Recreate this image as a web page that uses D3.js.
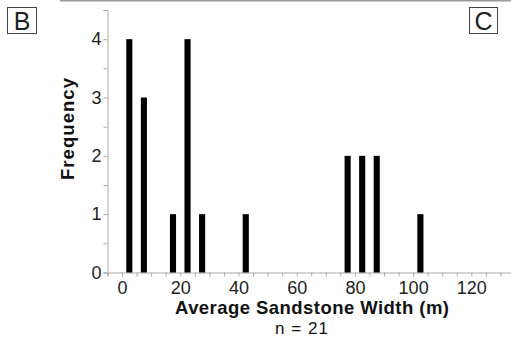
<!DOCTYPE html>
<html>
<head>
<meta charset="utf-8">
<script src="https://cdn.jsdelivr.net/npm/d3@7"></script>
<style>
  body { margin: 0; background: #fff; }
  svg { display: block; font-family: "Liberation Sans", Arial, sans-serif; }
</style>
</head>
<body>
<div id="chart"></div>
<script>
// histogram bins (centre of 5 m bin) and counts
const binCentres = [2.5, 7.5, 17.5, 22.5, 27.5, 42.5, 77.5, 82.5, 87.5, 102.5];
const counts = [4, 3, 1, 4, 1, 1, 2, 2, 2, 1];
const xTicks = [0, 20, 40, 60, 80, 100, 120];
const yTicks = [0, 1, 2, 3, 4];

let width = 511;
let height = 338;

let svg = d3.select("#chart")
    .append("svg")
    .attr("width", width)
    .attr("height", height);

let x = d3.scaleLinear().domain([-5, 135]).range([107.5, 515]);
let y = d3.scaleLinear().domain([0, 4.5]).range([272.5, 10]);

// top rule from the page
svg.append("line")
    .attr("x1", 60).attr("x2", width)
    .attr("y1", 0.75).attr("y2", 0.75)
    .attr("stroke", "#999").attr("stroke-width", 1.5);

// minor ticks
svg.append("g")
    .attr("transform", "translate(0,272.5)")
    .call(d3.axisBottom(x).tickValues(d3.range(-5, 136, 5)).tickSize(4).tickFormat(""))
    .call(g => g.select(".domain").attr("stroke", "#aaa"))
    .call(g => g.selectAll(".tick line").attr("stroke", "#aaa"));

svg.append("g")
    .attr("transform", "translate(107.5,0)")
    .call(d3.axisLeft(y).tickValues(d3.range(0, 4.51, 0.5)).tickSize(4).tickFormat(""))
    .call(g => g.select(".domain").attr("stroke", "#aaa"))
    .call(g => g.selectAll(".tick line").attr("stroke", "#aaa"));

// labelled ticks
let xAxis = svg.append("g")
    .attr("transform", "translate(0,272.5)")
    .call(d3.axisBottom(x).tickValues(xTicks).tickSize(0).tickPadding(8.5))
    .call(g => g.select(".domain").remove());
xAxis.selectAll("text").attr("font-size", 18).attr("fill", "#222")
    .attr("font-family", "Liberation Sans, Arial, sans-serif");

let yAxis = svg.append("g")
    .attr("transform", "translate(107.5,0)")
    .call(d3.axisLeft(y).tickValues(yTicks).tickFormat(d3.format("d")).tickSize(0).tickPadding(6))
    .call(g => g.select(".domain").remove());
yAxis.selectAll("text").attr("font-size", 18).attr("fill", "#222")
    .attr("font-family", "Liberation Sans, Arial, sans-serif");

// bars
let barW = x(2.1) - x(0);
svg.append("g")
    .selectAll("rect")
    .data(binCentres)
    .enter()
    .append("rect")
    .attr("x", d => x(d) - barW / 2)
    .attr("width", barW)
    .attr("y", (d, i) => y(counts[i]))
    .attr("height", (d, i) => y(0) - y(counts[i]))
    .attr("fill", "#000");

// axis titles
svg.append("text")
    .attr("x", 312).attr("y", 314)
    .attr("text-anchor", "middle")
    .attr("font-size", 18.5).attr("font-weight", "bold")
    .attr("textLength", 274).attr("lengthAdjust", "spacing")
    .attr("fill", "#111")
    .text("Average Sandstone Width (m)");

svg.append("text")
    .attr("x", 301.5).attr("y", 334)
    .attr("text-anchor", "middle")
    .attr("font-size", 17)
    .attr("textLength", 53).attr("lengthAdjust", "spacing")
    .attr("fill", "#111")
    .text("n = 21");

svg.append("text")
    .attr("transform", "translate(74,129) rotate(-90)")
    .attr("text-anchor", "middle")
    .attr("font-size", 18.5).attr("font-weight", "bold")
    .attr("textLength", 102).attr("lengthAdjust", "spacing")
    .attr("fill", "#111")
    .text("Frequency");

// panel letters
function panelLabel(px, py, w, h, letter) {
    svg.append("rect")
        .attr("x", px).attr("y", py).attr("width", w).attr("height", h)
        .attr("fill", "none").attr("stroke", "#444").attr("stroke-width", 1);
    svg.append("text")
        .attr("x", px + w / 2).attr("y", py + h - 4)
        .attr("text-anchor", "middle")
        .attr("font-size", 25)
        .attr("fill", "#222")
        .text(letter);
}
panelLabel(7.5, 7.5, 29, 26, "B");
panelLabel(469.5, 7.5, 28, 26, "C");
</script>
</body>
</html>
